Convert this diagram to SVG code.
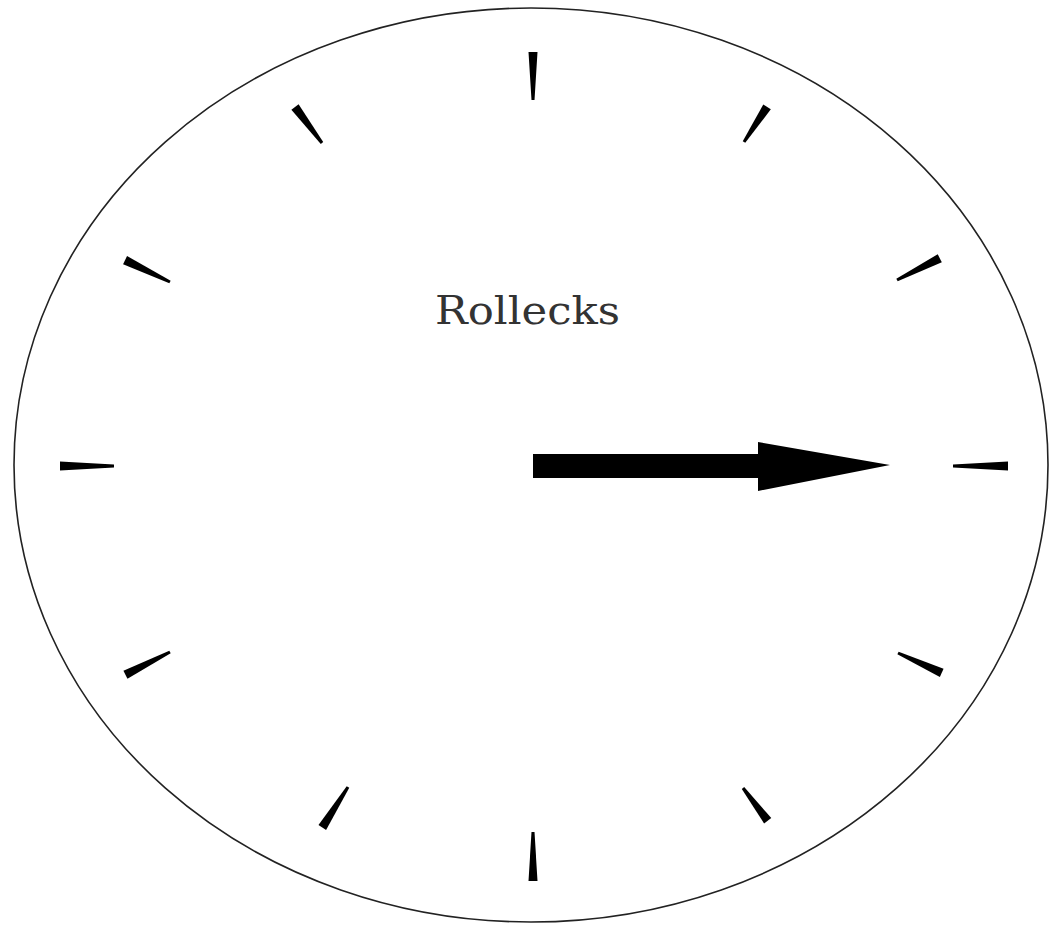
<svg xmlns="http://www.w3.org/2000/svg" width="1051" height="927" viewBox="0 0 1051 927">
<style>
.face{fill:#ffffff;stroke:#222;stroke-width:1.6}
.tick{fill:#000}
.hand{fill:#000}
.label{font-family:"DejaVu Serif","Liberation Serif",serif;font-size:40px;fill:#333}
</style>
<rect width="1051" height="927" fill="#ffffff"/>
<g id="face"><ellipse class="face" cx="531" cy="465" rx="517" ry="457"/></g>
<g id="ticks">
<path class="tick" transform="translate(533,100) rotate(-90)" d="M0,-1.5 L48,-4.5 L48,4.5 L0,1.5 Z"/>
<path class="tick" transform="translate(744,142) rotate(-56.7)" d="M0,-1.5 L42,-4.5 L42,4.5 L0,1.5 Z"/>
<path class="tick" transform="translate(897,280) rotate(-27)" d="M0,-1.5 L48,-4.5 L48,4.5 L0,1.5 Z"/>
<path class="tick" transform="translate(953,466) rotate(0)" d="M0,-1.5 L55,-4.5 L55,4.5 L0,1.5 Z"/>
<path class="tick" transform="translate(898,653) rotate(24.4)" d="M0,-1.5 L48,-4.5 L48,4.5 L0,1.5 Z"/>
<path class="tick" transform="translate(743,788) rotate(53)" d="M0,-1.5 L41,-4.5 L41,4.5 L0,1.5 Z"/>
<path class="tick" transform="translate(533,832) rotate(90)" d="M0,-1.5 L49,-4.5 L49,4.5 L0,1.5 Z"/>
<path class="tick" transform="translate(348,787) rotate(122.4)" d="M0,-1.5 L48,-4.5 L48,4.5 L0,1.5 Z"/>
<path class="tick" transform="translate(170,652) rotate(153)" d="M0,-1.5 L50,-4.5 L50,4.5 L0,1.5 Z"/>
<path class="tick" transform="translate(114,466) rotate(180)" d="M0,-1.5 L54,-4.5 L54,4.5 L0,1.5 Z"/>
<path class="tick" transform="translate(170,282) rotate(-154)" d="M0,-1.5 L50,-4.5 L50,4.5 L0,1.5 Z"/>
<path class="tick" transform="translate(322,143) rotate(-126.9)" d="M0,-1.5 L45,-4.5 L45,4.5 L0,1.5 Z"/>
</g>
<g id="hand"><path class="hand" d="M533,454 L758,454 L758,442 L890,465 L758,491 L758,478 L533,478 Z"/></g>
<g id="brand"><text class="label" x="435" y="324" textLength="185" lengthAdjust="spacingAndGlyphs">Rollecks</text></g>
</svg>
